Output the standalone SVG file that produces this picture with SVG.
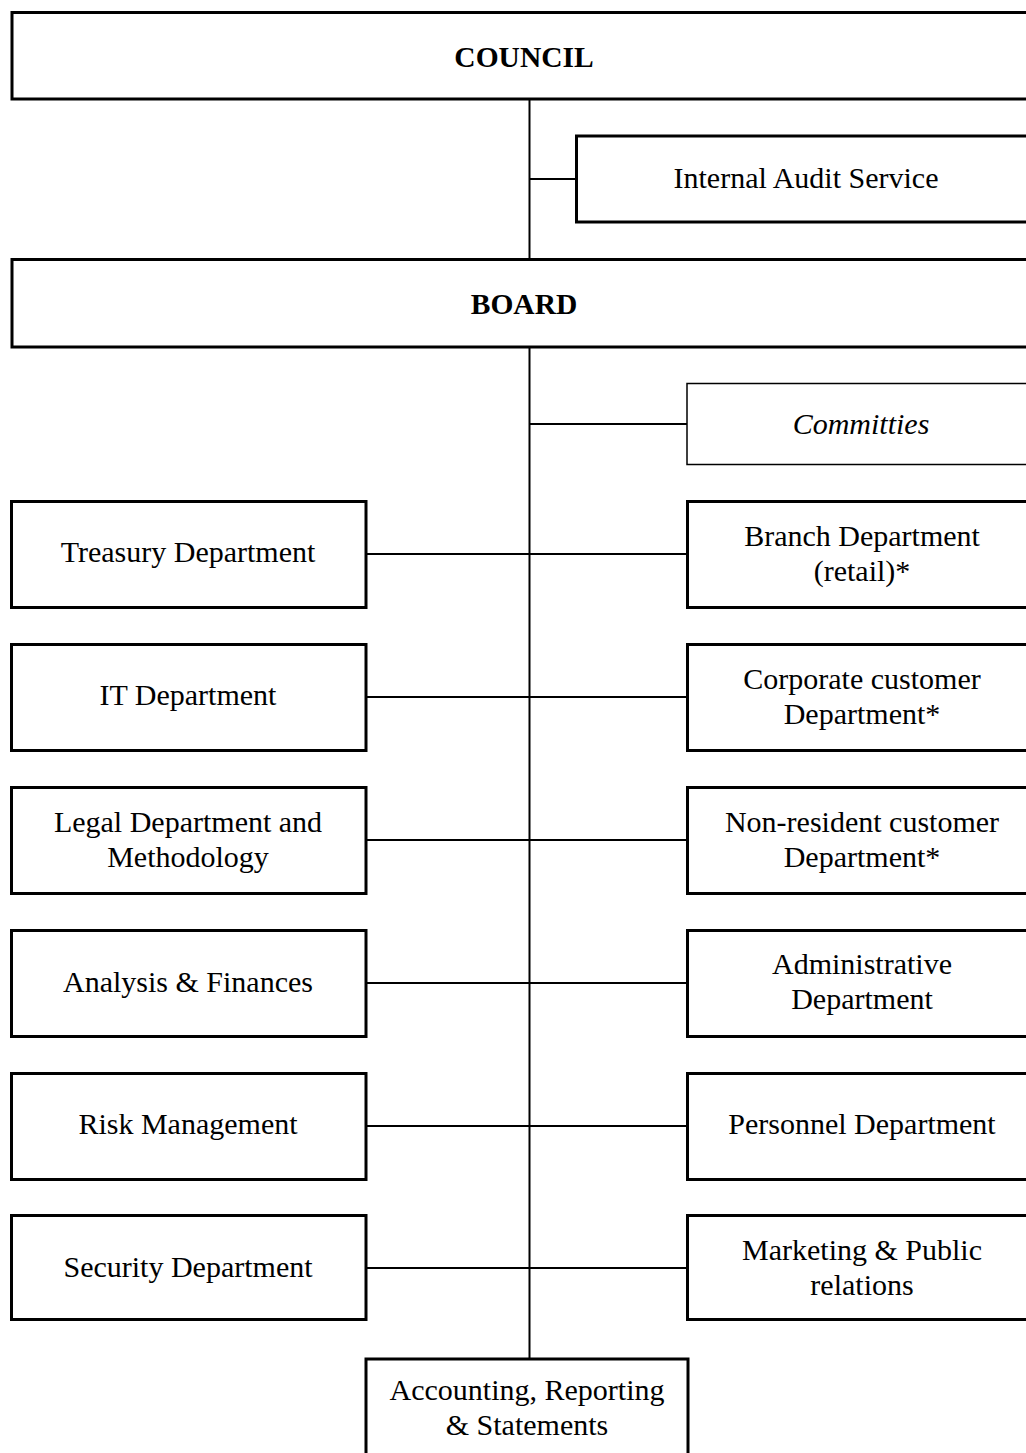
<svg xmlns="http://www.w3.org/2000/svg" width="1026" height="1453" viewBox="0 0 1026 1453">
<style>
.box{fill:#fff;stroke:#000;stroke-width:3}
.thin{fill:#fff;stroke:#000;stroke-width:1.5}
.t{font-family:"Liberation Serif","Times New Roman",serif;font-size:30px;fill:#000;text-anchor:middle}
.b{font-weight:bold;font-size:29.5px}
.i{font-style:italic}
.c{stroke:#000;stroke-width:2;fill:none}
</style>
<rect width="1026" height="1453" fill="#fff"/>
<g id="connectors">
<line class="c" x1="529.5" y1="99" x2="529.5" y2="259"/>
<line class="c" x1="529.5" y1="347" x2="529.5" y2="1359"/>
<line class="c" x1="529.5" y1="179" x2="576" y2="179"/>
<line class="c" x1="529.5" y1="424" x2="687" y2="424"/>
<line class="c" x1="366" y1="554" x2="687" y2="554"/>
<line class="c" x1="366" y1="697" x2="687" y2="697"/>
<line class="c" x1="366" y1="840" x2="687" y2="840"/>
<line class="c" x1="366" y1="983" x2="687" y2="983"/>
<line class="c" x1="366" y1="1126" x2="687" y2="1126"/>
<line class="c" x1="366" y1="1268" x2="687" y2="1268"/>
</g>
<g id="council"><rect class="box" x="12" y="12.5" width="1025" height="86.5"/><text class="t b" x="524" y="67">COUNCIL</text></g>
<g id="audit"><rect class="box" x="576.5" y="136" width="460" height="86"/><text class="t" x="806" y="188">Internal Audit Service</text></g>
<g id="board"><rect class="box" x="12" y="259.5" width="1025" height="87.5"/><text class="t b" x="524" y="314">BOARD</text></g>
<g id="committies"><rect class="thin" x="687" y="383.5" width="350" height="81"/><text class="t i" x="861" y="434">Committies</text></g>
<g id="treasury"><rect class="box" x="11.5" y="501.5" width="354.5" height="106"/><text class="t" x="188" y="562">Treasury Department</text></g>
<g id="branch"><rect class="box" x="687.5" y="501.5" width="350" height="106"/><text class="t" x="862" y="546">Branch Department</text><text class="t" x="862" y="581">(retail)*</text></g>
<g id="it"><rect class="box" x="11.5" y="644.5" width="354.5" height="106"/><text class="t" x="188" y="705">IT Department</text></g>
<g id="corporate"><rect class="box" x="687.5" y="644.5" width="350" height="106"/><text class="t" x="862" y="689">Corporate customer</text><text class="t" x="862" y="724">Department*</text></g>
<g id="legal"><rect class="box" x="11.5" y="787.5" width="354.5" height="106"/><text class="t" x="188" y="832">Legal Department and</text><text class="t" x="188" y="867">Methodology</text></g>
<g id="nonresident"><rect class="box" x="687.5" y="787.5" width="350" height="106"/><text class="t" x="862" y="832">Non-resident customer</text><text class="t" x="862" y="867">Department*</text></g>
<g id="analysis"><rect class="box" x="11.5" y="930.5" width="354.5" height="106"/><text class="t" x="188" y="992">Analysis &amp; Finances</text></g>
<g id="administrative"><rect class="box" x="687.5" y="930.5" width="350" height="106"/><text class="t" x="862" y="974">Administrative</text><text class="t" x="862" y="1009">Department</text></g>
<g id="risk"><rect class="box" x="11.5" y="1073.5" width="354.5" height="106"/><text class="t" x="188" y="1134">Risk Management</text></g>
<g id="personnel"><rect class="box" x="687.5" y="1073.5" width="350" height="106"/><text class="t" x="862" y="1134">Personnel Department</text></g>
<g id="security"><rect class="box" x="11.5" y="1215.5" width="354.5" height="104"/><text class="t" x="188" y="1277">Security Department</text></g>
<g id="marketing"><rect class="box" x="687.5" y="1215.5" width="350" height="104"/><text class="t" x="862" y="1260">Marketing &amp; Public</text><text class="t" x="862" y="1295">relations</text></g>
<g id="accounting"><rect class="box" x="366" y="1359" width="322" height="110"/><text class="t" x="527" y="1400">Accounting, Reporting</text><text class="t" x="527" y="1435">&amp; Statements</text></g>
</svg>
